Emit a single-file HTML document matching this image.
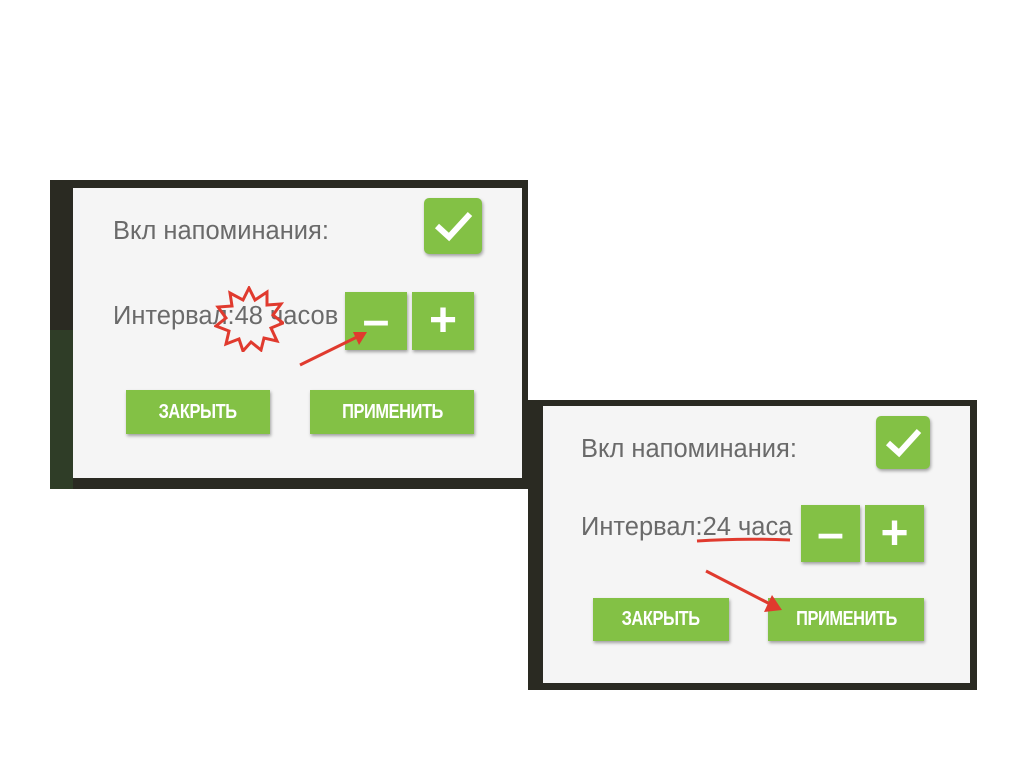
<!DOCTYPE html>
<html><head><meta charset="utf-8"><style>
body{margin:0;width:1024px;height:767px;background:#fff;position:relative;overflow:hidden;font-family:"Liberation Sans",sans-serif}
.a{position:absolute}
.dark{background:#2a2a22}
.card{background:#f5f5f5}
.g{background:#83c145;box-shadow:1px 2px 3px rgba(0,0,0,.35)}
.t{color:#6a6a6a;font-size:25.5px;white-space:nowrap}
.b{color:#fff;font-weight:bold;font-size:20px;display:flex;align-items:center;justify-content:center}
.b span{display:inline-block;transform:scaleX(0.82);letter-spacing:-0.5px}
.pm{color:#fff;font-weight:bold;font-size:48px;display:flex;align-items:center;justify-content:center;line-height:1}
</style></head><body>
<!-- panel 1 -->
<div class="a dark" style="left:50px;top:180px;width:478px;height:309px"></div>
<div class="a" style="left:50px;top:330px;width:23px;height:159px;background:#2f3d27"></div>
<div class="a card" style="left:73px;top:188px;width:449px;height:290px"></div>
<div class="a g" style="left:424px;top:198px;width:58px;height:56px;border-radius:5px"></div>
<svg class="a" style="left:424px;top:198px" width="58" height="56"><polyline points="13,28 25,39 46,16" fill="none" stroke="#fff" stroke-width="6"/></svg>
<div class="a t" style="left:113px;top:217px">Вкл напоминания:</div>
<div class="a t" style="left:113px;top:302px">Интервал:48 часов</div>
<svg class="a" style="left:214px;top:286px" width="70" height="66"><polygon points="35,2 41,14 53,6 53,19 67,18 59,29 69,37 57,42 63,55 50,52 47,64 37,56 29,65 25,53 12,58 15,45 2,40 12,32 4,21 18,20 16,7 29,14" fill="none" stroke="#e03a2e" stroke-width="3"/></svg>
<div class="a g pm" style="left:345px;top:292px;width:62px;height:58px">–</div>
<div class="a g pm" style="left:412px;top:292px;width:62px;height:58px">+</div>
<svg class="a" style="left:295px;top:325px" width="80" height="45"><line x1="5" y1="40" x2="62" y2="12" stroke="#e03a2e" stroke-width="3"/><polygon points="72,7 58,7 64,20" fill="#e03a2e"/></svg>
<div class="a g b" style="left:126px;top:390px;width:144px;height:44px"><span>ЗАКРЫТЬ</span></div>
<div class="a g b" style="left:310px;top:390px;width:164px;height:44px"><span>ПРИМЕНИТЬ</span></div>
<!-- panel 2 -->
<div class="a dark" style="left:528px;top:400px;width:449px;height:290px"></div>
<div class="a card" style="left:543px;top:406px;width:427px;height:277px"></div>
<div class="a g" style="left:876px;top:416px;width:54px;height:53px;border-radius:5px"></div>
<svg class="a" style="left:876px;top:416px" width="54" height="53"><polyline points="12,27 23,37 43,15" fill="none" stroke="#fff" stroke-width="6"/></svg>
<div class="a t" style="left:581px;top:435px">Вкл напоминания:</div>
<div class="a t" style="left:581px;top:513px">Интервал:24 часа</div>
<div class="a g pm" style="left:801px;top:505px;width:59px;height:57px">–</div>
<div class="a g pm" style="left:865px;top:505px;width:59px;height:57px">+</div>
<div class="a g b" style="left:593px;top:598px;width:136px;height:43px"><span>ЗАКРЫТЬ</span></div>
<div class="a g b" style="left:768px;top:598px;width:156px;height:43px"><span>ПРИМЕНИТЬ</span></div>
<svg class="a" style="left:690px;top:530px" width="110" height="90"><path d="M7 11 Q50 8 100 10" fill="none" stroke="#e03a2e" stroke-width="3"/><line x1="16" y1="41" x2="80" y2="74" stroke="#e03a2e" stroke-width="3"/><polygon points="92,80 74,82 82,65" fill="#e03a2e"/></svg>
</body></html>
